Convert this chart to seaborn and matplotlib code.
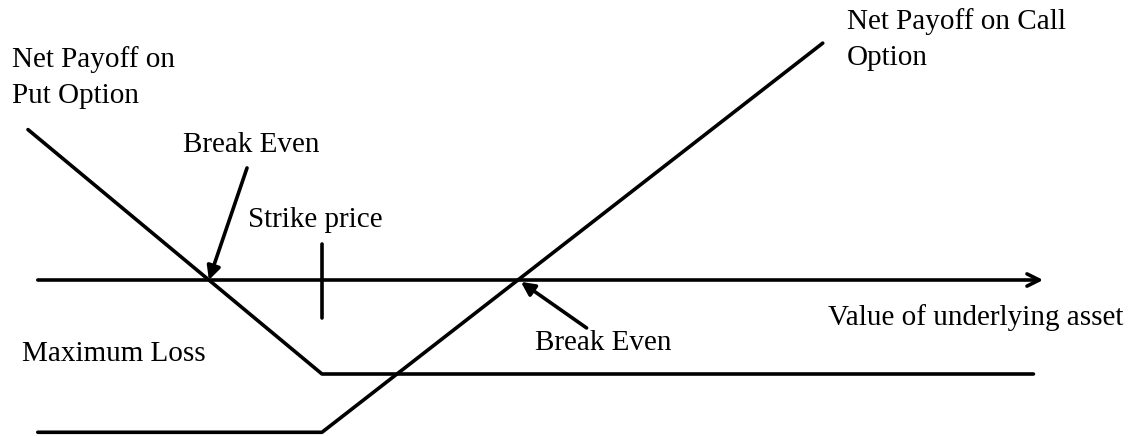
import numpy as np
import pandas as pd
import matplotlib
matplotlib.use("Agg")
import matplotlib.pyplot as plt
import seaborn as sns

# payoff diagram: price of the underlying vs net payoff (schematic units)
strike = 30
put_price = [0, 30, 102.6]
put_payoff = [8, -5, -5]
call_price = [1, 30, 81.1]
call_payoff = [-8.1, -8.1, 12.6]
axis_start, axis_end = 1, 103.6
tick_span = [-2.0, 1.9]

sns.set_style("white")
plt.rcParams["font.family"] = ["Liberation Serif", "DejaVu Serif"]
plt.rcParams["text.color"] = "black"

fig = plt.figure(figsize=(11.43, 4.36), dpi=100)
ax = fig.add_axes([0, 0, 1, 1])

lw = 2.6
sns.lineplot(x=put_price, y=put_payoff, ax=ax, color="black", lw=lw, sort=False)
sns.lineplot(x=call_price, y=call_payoff, ax=ax, color="black", lw=lw, sort=False)

# horizontal axis with arrow head
ax.annotate("", xy=(axis_end, 0), xytext=(axis_start, 0),
            arrowprops=dict(arrowstyle="->", lw=lw, color="black",
                            mutation_scale=22, shrinkA=0, shrinkB=0))
# strike price tick
ax.plot([strike, strike], tick_span, color="black", lw=lw)

# break even points (where each payoff crosses zero)
put_be = np.interp(0, put_payoff[:2][::-1], put_price[:2][::-1])
call_be = np.interp(0, call_payoff[1:], call_price[1:])

fs = 21
ax.text(-1.6, 10.75, "Net Payoff on\nPut Option", fontsize=fs, ha="left", va="center", linespacing=1.49)
ax.text(83.6, 12.8, "Net Payoff on Call\nOption", fontsize=fs, ha="left", va="center", linespacing=1.49)
ax.text(22.4, 3.2, "Strike price", fontsize=fs, ha="left", va="center")
ax.text(-0.6, -3.95, "Maximum Loss", fontsize=fs, ha="left", va="center")
ax.text(81.6, -1.97, "Value of underlying asset", fontsize=fs, ha="left", va="center")

arrow = dict(arrowstyle="-|>", lw=lw, color="black", mutation_scale=20, shrinkA=0, shrinkB=0)
ax.text(15.8, 7.2, "Break Even", fontsize=fs, ha="left", va="center")
ax.annotate("", xy=(put_be, 0), xytext=(22.35, 5.96), arrowprops=arrow)
ax.text(51.7, -3.35, "Break Even", fontsize=fs, ha="left", va="center")
ax.annotate("", xy=(call_be + 0.3, -0.1), xytext=(57.0, -2.55), arrowprops=arrow)

ax.set_xlim(-2.857, 113.78)
ax.set_ylim(-8.298, 14.894)
ax.axis("off")

fig.savefig("out.png", dpi=100, facecolor="white")
